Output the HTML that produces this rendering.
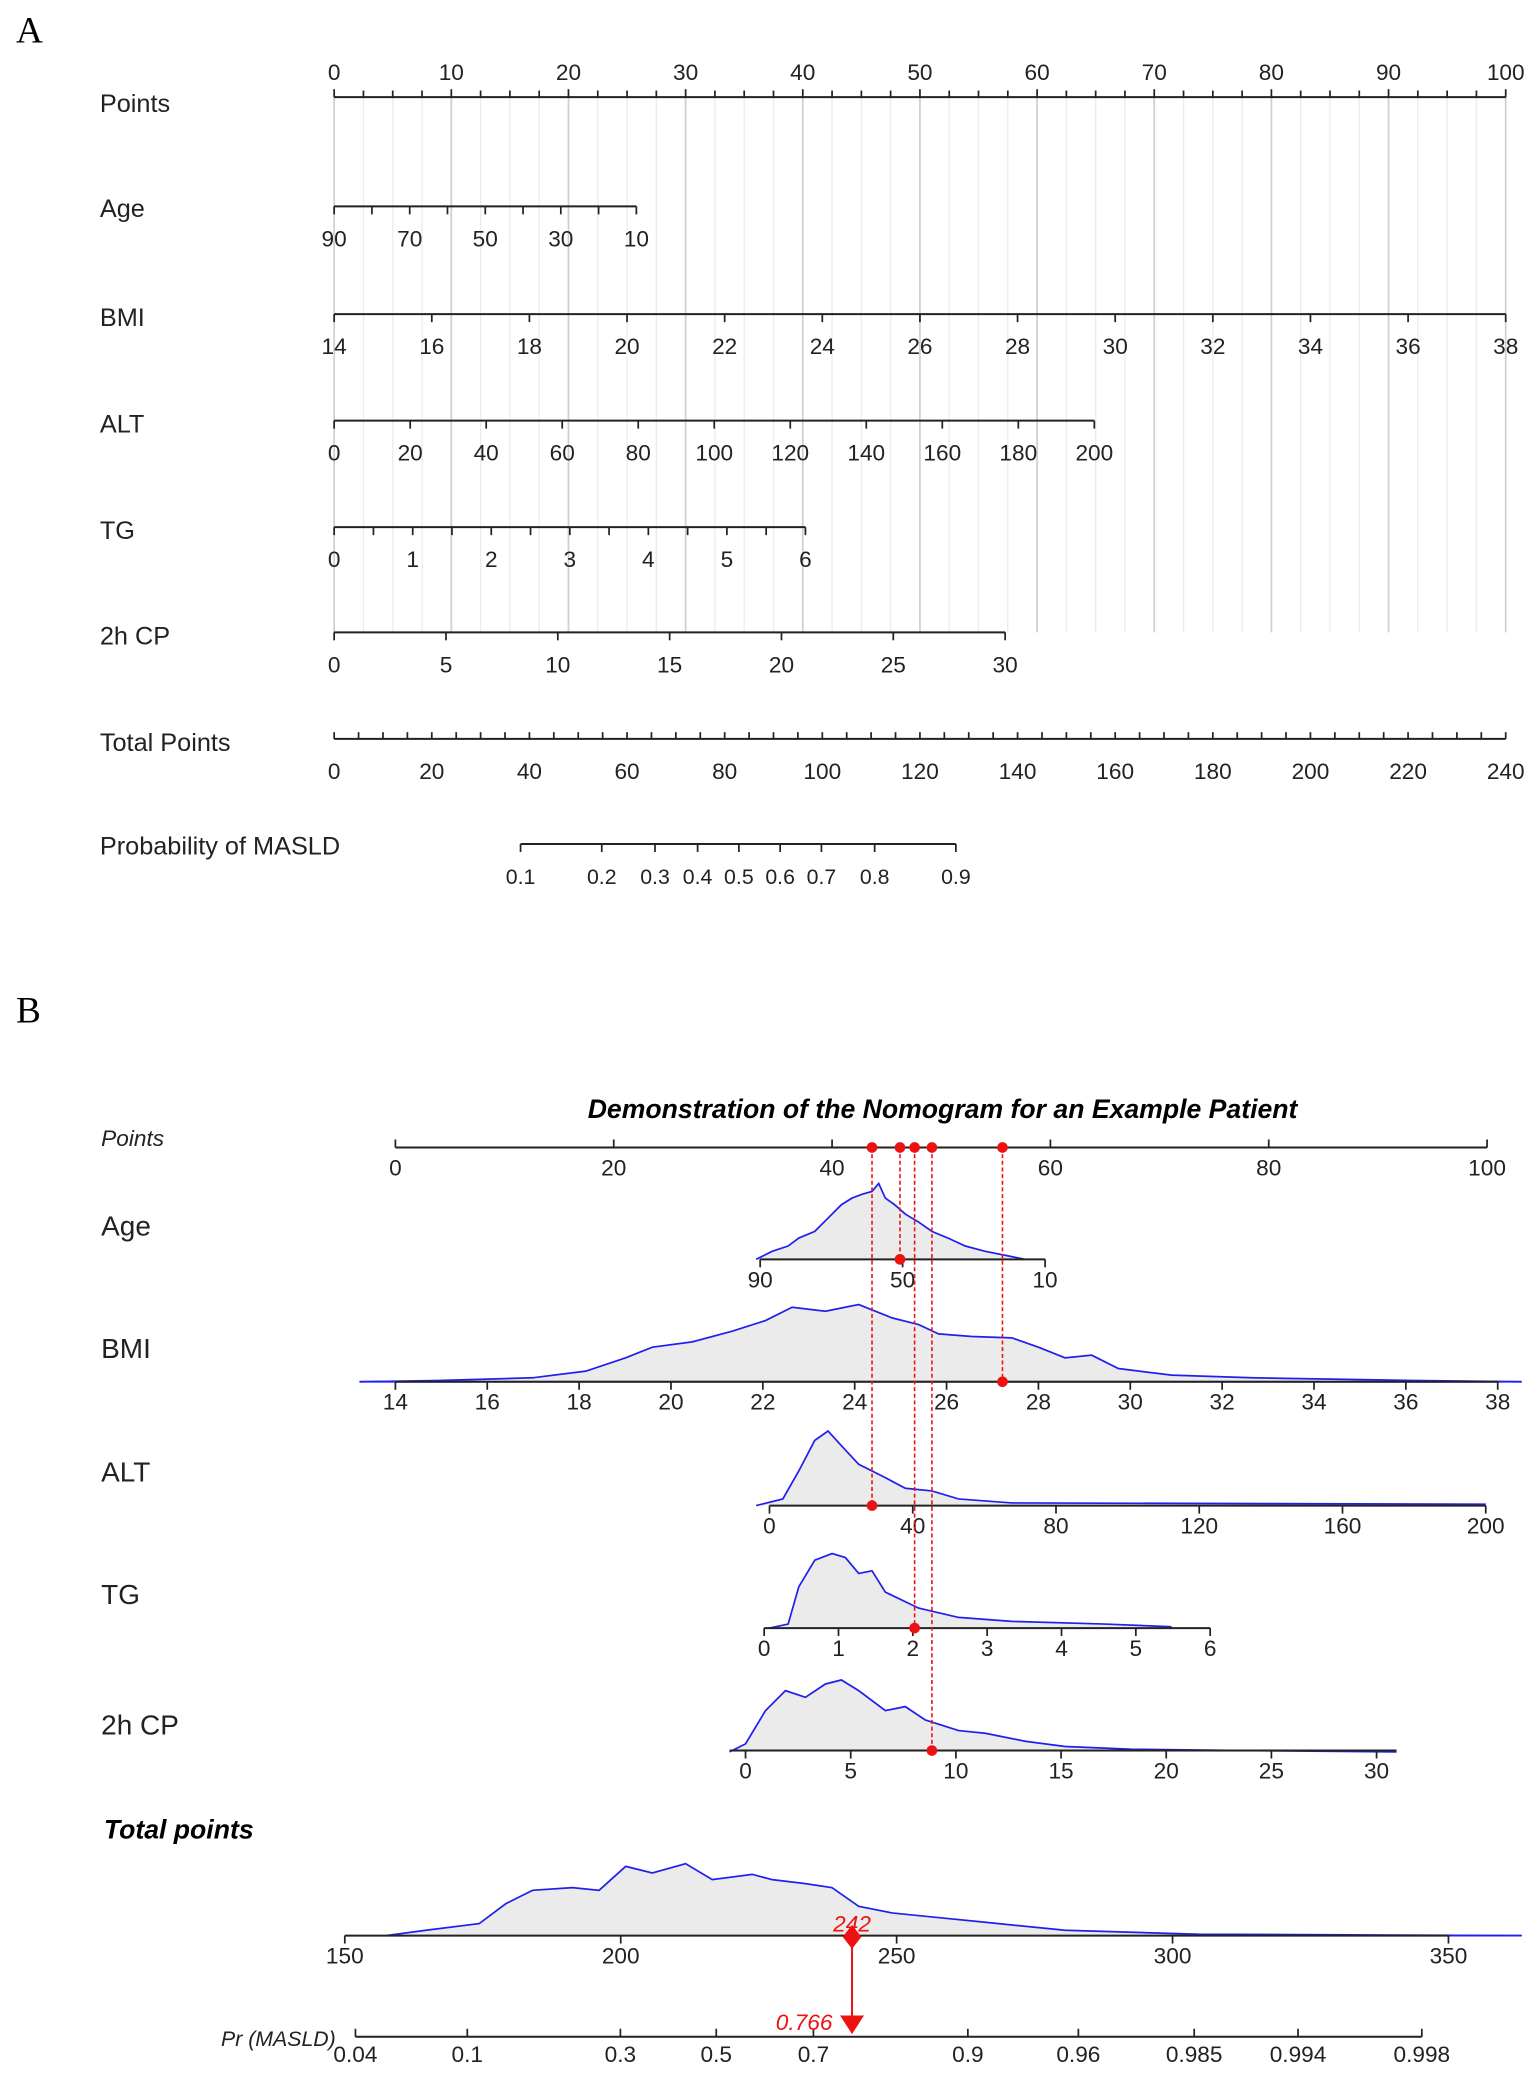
<!DOCTYPE html>
<html><head><meta charset="utf-8"><style>
html,body{margin:0;padding:0;background:#fff;}
svg{display:block;font-family:"Liberation Sans",Arial,sans-serif;}
</style></head><body>
<svg id="s" width="1535" height="2086" viewBox="0 0 1153 1567" preserveAspectRatio="none" xmlns="http://www.w3.org/2000/svg">
<text x="12" y="32" font-family="Liberation Serif,serif" font-size="28">A</text>
<text x="12" y="768" font-family="Liberation Serif,serif" font-size="28">B</text>
</svg>
<script>
var s=document.getElementById('s'),NS='http://www.w3.org/2000/svg';
function el(t,a,txt){var e=document.createElementNS(NS,t);for(var k in a)e.setAttribute(k,a[k]);if(txt!==undefined)e.textContent=txt;s.appendChild(e);return e;}
function line(x1,y1,x2,y2,c,w,d){var a={x1:x1,y1:y1,x2:x2,y2:y2,stroke:c||'#222','stroke-width':w||1.3};if(d)a['stroke-dasharray']=d;return el('line',a);}
function txt(x,y,t,sz,o){var a={x:x,y:y,'font-size':sz||17,'text-anchor':'middle',fill:'#222'};for(var k in o)a[k]=o[k];return el('text',a,t);}
var X0=251,X1=1131;
function px(p){return X0+(X1-X0)*p/100;}
for(var i=0;i<=40;i++){var p=i*2.5;var maj=(i%4==0);line(px(p),73,px(p),475,maj?'#cfcfcf':'#ececec',maj?1.3:1);}
line(X0,73,X1,73,'#222',1.5);
for(var i=0;i<=40;i++){line(px(i*2.5),73,px(i*2.5),i%4==0?67:68);}
for(var i=0;i<=10;i++)txt(px(i*10),60,String(i*10),17);
var labA=[['Points',77],['Age',156],['BMI',238],['ALT',318],['TG',398],['2h CP',477],['Total Points',557],['Probability of MASLD',635]];
labA.forEach(function(l){txt(75,l[1]+7,l[0],19,{'text-anchor':'start'});});
function axis(y,xa,xb,ticks,labels,tl){line(xa,y,xb,y,'#222',1.5);ticks.forEach(function(t){line(t,y,t,y+(tl||6));});labels.forEach(function(l){txt(l[0],y+30,l[1],17);});}
var t=[],L=[];for(var i=0;i<=8;i++){var x=251+(478-251)*i/8;t.push(x);if(i%2==0)L.push([x,String(90-i*10)]);}axis(155,251,478,t,L);
t=[];L=[];for(var i=0;i<=12;i++){var x=251+(1131-251)*i/12;t.push(x);L.push([x,String(14+2*i)]);}axis(236,251,1131,t,L);
t=[];L=[];for(var i=0;i<=10;i++){var x=251+(822-251)*i/10;t.push(x);L.push([x,String(20*i)]);}axis(316,251,822,t,L);
t=[];L=[];for(var i=0;i<=12;i++){var x=251+(605-251)*i/12;t.push(x);if(i%2==0)L.push([x,String(i/2)]);}axis(396,251,605,t,L);
t=[];L=[];for(var i=0;i<=6;i++){var x=251+(755-251)*i/6;t.push(x);L.push([x,String(5*i)]);}axis(475,251,755,t,L);
line(251,555,1131,555,'#222',1.5);
for(var i=0;i<=48;i++){line(251+880*i/48,555,251+880*i/48,550);}
for(var i=0;i<=12;i++)txt(251+880*i/12,585,String(20*i),17);
var pp=[[391,'0.1'],[452,'0.2'],[492,'0.3'],[524,'0.4'],[555,'0.5'],[586,'0.6'],[617,'0.7'],[657,'0.8'],[718,'0.9']];
line(391,634,718,634,'#222',1.5);pp.forEach(function(q){line(q[0],634,q[0],640);txt(q[0],664,q[1],16);});

txt(708,840,'Demonstration of the Nomogram for an Example Patient',20,{'font-weight':'bold','font-style':'italic',fill:'#000'});
txt(76,861,'Points',17,{'text-anchor':'start','font-style':'italic'});
[['Age',928],['BMI',1020],['ALT',1113],['TG',1205],['2h CP',1303]].forEach(function(l){txt(76,l[1],l[0],21,{'text-anchor':'start'});});
txt(78,1381,'Total points',20,{'text-anchor':'start','font-weight':'bold','font-style':'italic',fill:'#000'});
function dens(pts,base){var d='M'+pts.map(function(p){return p[0]+','+p[1];}).join(' L');el('path',{d:d+' Z',fill:'#ebebeb',stroke:'none'});el('path',{d:d,fill:'none',stroke:'#2020ee','stroke-width':1.3});}
dens([[568,946],[580,940],[592,936],[600,930],[612,925],[622,915],[632,905],[640,900],[648,897],[655,895],[660,889],[665,900],[672,905],[680,912],[690,918],[700,925],[712,930],[725,936],[740,940],[760,944],[770,946]]);
dens([[270,1038],[330,1037],[400,1035],[440,1030],[470,1020],[490,1012],[520,1008],[550,1000],[575,992],[595,982],[620,985],[645,980],[670,990],[690,995],[705,1002],[730,1004],[760,1005],[780,1012],[800,1020],[820,1018],[840,1028],[880,1033],[940,1035],[1000,1036],[1060,1037],[1143,1038]]);
dens([[568,1131],[588,1126],[600,1105],[612,1082],[622,1075],[632,1086],[645,1100],[665,1110],[680,1118],[700,1120],[720,1126],[760,1129],[1116,1130]]);
dens([[578,1223],[592,1220],[600,1192],[612,1172],[625,1167],[635,1170],[645,1182],[655,1180],[665,1196],[690,1208],[720,1215],[760,1218],[830,1220],[880,1222]]);
dens([[548,1316],[560,1310],[575,1285],[590,1270],[605,1275],[620,1265],[632,1262],[645,1270],[665,1285],[680,1282],[695,1292],[720,1300],[740,1302],[770,1308],[800,1312],[850,1314],[930,1315],[1049,1316]]);
dens([[290,1454],[320,1450],[360,1445],[380,1430],[400,1420],[430,1418],[450,1420],[470,1402],[490,1407],[515,1400],[535,1412],[565,1408],[580,1412],[605,1415],[625,1418],[645,1432],[670,1437],[700,1440],[740,1444],[800,1450],[900,1453],[1143,1454]]);
function baxis(y,xa,xb,ticks,ext){if(ext)line(ext[0],y,ext[1],y,'#2020ee',1.3);line(xa,y,xb,y,'#222',1.5);ticks.forEach(function(q){line(q[0],y,q[0],y+6);txt(q[0],y+21,q[1],17);});}
var tk=[];for(var i=0;i<=5;i++)tk.push([297+(1117-297)*i/5,String(20*i)]);
line(297,862,1117,862,'#222',1.5);tk.forEach(function(q){line(q[0],862,q[0],856);txt(q[0],883,q[1],17);});
baxis(946,571,785,[[571,'90'],[678,'50'],[785,'10']]);
tk=[];for(var i=0;i<=12;i++)tk.push([297+(1125-297)*i/12,String(14+2*i)]);baxis(1038,297,1125,tk,[270,1143]);
tk=[];for(var i=0;i<=5;i++)tk.push([578+(1116-578)*i/5,String(40*i)]);baxis(1131,578,1116,tk);
tk=[];for(var i=0;i<=6;i++)tk.push([574+(909-574)*i/6,String(i)]);baxis(1223,574,909,tk);
tk=[];for(var i=0;i<=6;i++)tk.push([560+(1034-560)*i/6,String(5*i)]);baxis(1315,548,1049,tk);
tk=[];for(var i=0;i<=4;i++)tk.push([259+(1088-259)*i/4,String(150+50*i)]);baxis(1454,259,1088,tk,[1088,1143]);
line(267,1530,1068,1530,'#222',1.5);
[[267,'0.04'],[351,'0.1'],[466,'0.3'],[538,'0.5'],[611,'0.7'],[727,'0.9'],[810,'0.96'],[897,'0.985'],[975,'0.994'],[1068,'0.998']].forEach(function(q){line(q[0],1530,q[0],1524);txt(q[0],1549,q[1],17);});
txt(166,1537,'Pr (MASLD)',16,{'text-anchor':'start','font-style':'italic'});
var R='#ee1111';
[[655,1131],[676,946],[687,1223],[700,1315],[753,1038]].forEach(function(q){line(q[0],862,q[0],q[1],R,1.2,'3,2');el('circle',{cx:q[0],cy:862,r:4,fill:R});el('circle',{cx:q[0],cy:q[1],r:4,fill:R});});
line(640,1454,640,1515,R,1.5);
el('path',{d:'M640,1446 L647,1455 L640,1464 L633,1455 Z',fill:R});
el('path',{d:'M631,1514 L649,1514 L640,1528 Z',fill:R});
txt(640,1451,'242',17,{'font-style':'italic',fill:R});
txt(604,1525,'0.766',17,{'font-style':'italic',fill:R});
</script>
</body></html>
